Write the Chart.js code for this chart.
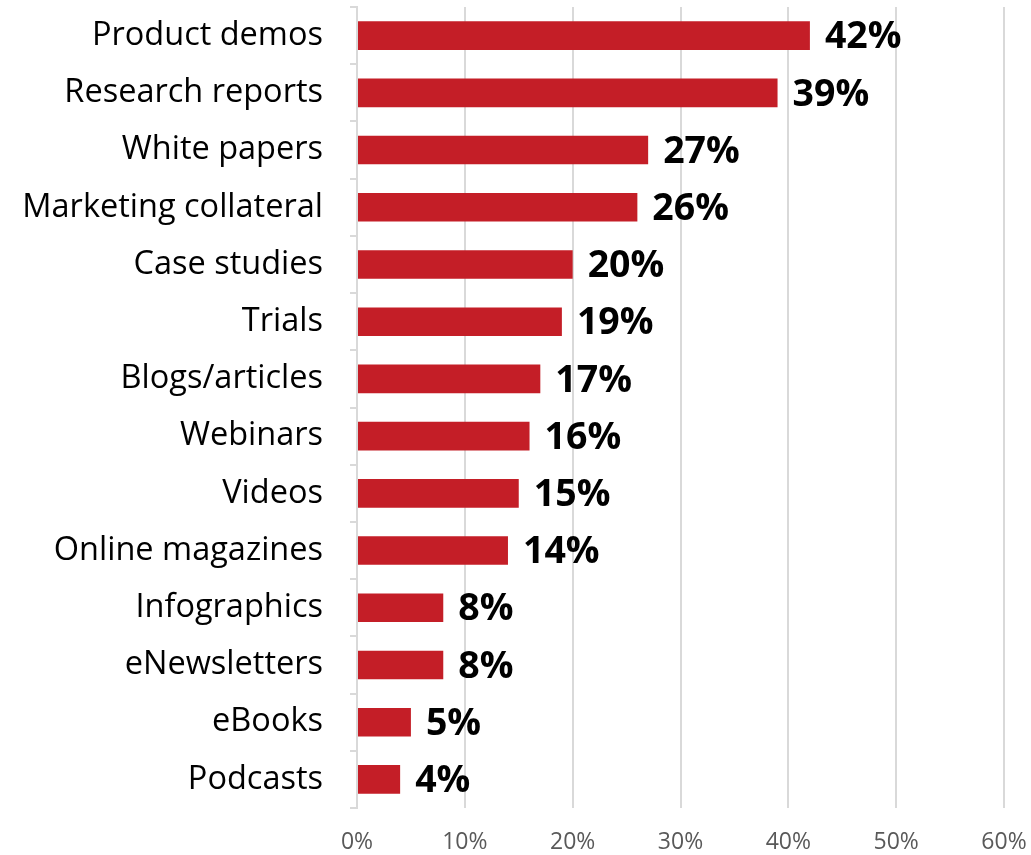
<!DOCTYPE html>
<html>
<head>
<meta charset="utf-8">
<title>Content types</title>
<script src="https://cdn.jsdelivr.net/npm/chart.js@4"></script>
<style>
  html, body { margin: 0; padding: 0; background: #ffffff; }
  #wrap { width: 1031px; height: 855px; position: relative; }
</style>
</head>
<body>
<div id="wrap"><canvas id="chart"></canvas></div>
<script>
// Content types and share of respondents (%)
const categories = [
  'Product demos', 'Research reports', 'White papers', 'Marketing collateral',
  'Case studies', 'Trials', 'Blogs/articles', 'Webinars', 'Videos',
  'Online magazines', 'Infographics', 'eNewsletters', 'eBooks', 'Podcasts'
];
const shares = [42, 39, 27, 26, 20, 19, 17, 16, 15, 14, 8, 8, 5, 4];
const axisMax = 60;
const axisStep = 10;

const BAR_RED = '#C41E27';
const GRID = '#D9D9D9';
const FONT = "'Open Sans', 'Liberation Sans', sans-serif";

// Bold value label to the right of each bar
const valueLabels = {
  id: 'valueLabels',
  afterDatasetsDraw(chart) {
    const ctx = chart.ctx;
    const meta = chart.getDatasetMeta(0);
    ctx.save();
    ctx.font = `bold 37.5px ${FONT}`;
    ctx.fillStyle = '#000000';
    ctx.textAlign = 'left';
    ctx.textBaseline = 'middle';
    meta.data.forEach((bar, i) => {
      ctx.fillText(shares[i] + '%', bar.x + 15, bar.y + 2);
    });
    ctx.restore();
  }
};

new Chart(document.getElementById('chart'), {
  type: 'bar',
  data: {
    labels: categories,
    datasets: [{
      data: shares,
      backgroundColor: BAR_RED,
      borderWidth: 0,
      barPercentage: 0.5,
      categoryPercentage: 1.0
    }]
  },
  options: {
    indexAxis: 'y',
    responsive: true,
    maintainAspectRatio: false,
    animation: false,
    layout: { padding: { top: 7, right: 27, bottom: 0, left: 0 } },
    plugins: {
      legend: { display: false },
      tooltip: { enabled: false }
    },
    scales: {
      x: {
        position: 'bottom',
        min: 0,
        max: axisMax,
        ticks: {
          stepSize: axisStep,
          color: '#595959',
          font: { family: FONT, size: 23 },
          padding: 21,
          callback: v => v + '%'
        },
        grid: {
          color: GRID,
          lineWidth: 2,
          drawTicks: false
        },
        border: { display: false },
        afterFit(scale) {
          scale.height = 47;
          scale.paddingLeft = 0;
          scale.paddingRight = 0;
        }
      },
      y: {
        ticks: {
          color: '#000000',
          font: { family: FONT, size: 32.5 },
          padding: 27
        },
        grid: {
          offset: true,
          drawOnChartArea: false,
          color: GRID,
          lineWidth: 2,
          tickLength: 7
        },
        border: { display: true, color: GRID, width: 2 },
        afterFit(scale) {
          scale.width = 357;
          scale.paddingTop = 0;
          scale.paddingBottom = 0;
        }
      }
    }
  },
  plugins: [valueLabels]
});
</script>
</body>
</html>
